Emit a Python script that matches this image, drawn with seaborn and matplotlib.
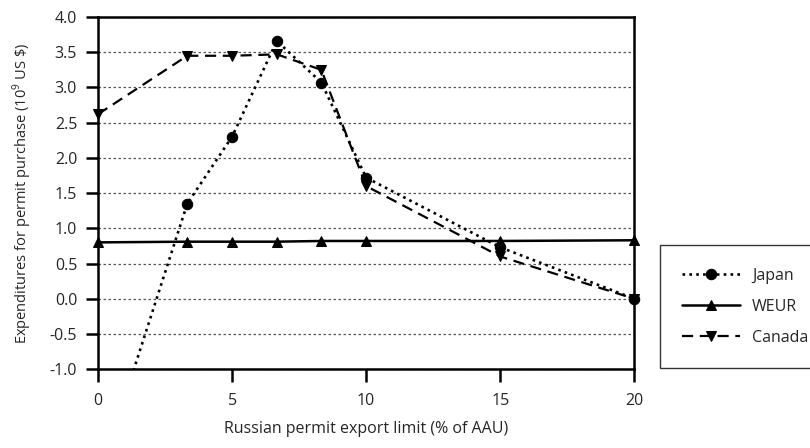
import matplotlib
matplotlib.use("Agg")
import matplotlib.pyplot as plt
from matplotlib.patches import Rectangle
import pandas as pd
import seaborn as sns

# Russian permit export limit (% of AAU)
limits = [0, 3.33, 5, 6.67, 8.33, 10, 15, 20]

# expenditures for permit purchase (10^9 US $)
japan = [-2.58, 1.35, 2.30, 3.66, 3.07, 1.72, 0.73, 0.0]
weur = [0.80, 0.81, 0.81, 0.81, 0.82, 0.82, 0.82, 0.83]
canada = [2.62, 3.45, 3.45, 3.47, 3.25, 1.60, 0.60, 0.0]

series_names = ["Japan", "WEUR", "Canada"]

df = pd.DataFrame({
    "limit": limits * 3,
    "value": japan + weur + canada,
    "region": [n for n in series_names for _ in limits],
})

sns.set_style("white")
plt.rcParams["font.family"] = ["Open Sans", "DejaVu Sans"]
plt.rcParams["mathtext.fontset"] = "custom"
plt.rcParams["mathtext.rm"] = "Open Sans"

fig = plt.figure(figsize=(8.1, 4.48), dpi=100)
ax = fig.add_axes([0.121, 0.176, 0.662, 0.786])

styles = {
    "Japan": dict(linestyle=(0, (1, 1.6)), marker="o", linewidth=1.9, markersize=7.5),
    "WEUR": dict(linestyle="-", marker="^", linewidth=1.8, markersize=7.5),
    "Canada": dict(linestyle=(0, (5, 3)), marker="v", linewidth=1.6, markersize=7.5),
}

for name in series_names:
    sub = df[df["region"] == name]
    sns.lineplot(data=sub, x="limit", y="value", ax=ax, color="black",
                 label=name, markeredgecolor="black", **styles[name])

# let edge markers show in full, but keep the lines inside the y range
clip = Rectangle((-0.03, 0.0), 1.06, 1.05, transform=ax.transAxes)
for line in ax.lines:
    line.set_clip_path(clip)

ax.set_xlim(0, 20)
ax.set_ylim(-1.0, 4.0)
ax.set_xticks([0, 5, 10, 15, 20])
ax.set_yticks([-1.0, -0.5, 0.0, 0.5, 1.0, 1.5, 2.0, 2.5, 3.0, 3.5, 4.0])
ax.set_yticklabels([f"{v:.1f}" for v in ax.get_yticks()])
ax.yaxis.grid(True, linestyle=(0, (2, 2)), color="#555555", linewidth=0.9)
ax.xaxis.grid(False)
ax.set_axisbelow(True)

for sp in ax.spines.values():
    sp.set_color("black")
    sp.set_linewidth(1.8)

ax.tick_params(axis="both", direction="out", length=9, width=1.8, color="black",
               labelsize=11.5, left=True, bottom=True)
ax.tick_params(axis="x", pad=8)
ax.tick_params(axis="y", pad=6)

ax.set_xlabel("Russian permit export limit (% of AAU)", fontsize=11.5, labelpad=9)
ax.set_ylabel("Expenditures for permit purchase (10$^{9}$ US \\$)", fontsize=10.5, labelpad=11)

leg = ax.legend(loc="upper left", bbox_to_anchor=(1.048, 0.0, 0.33, 0.352),
                mode="expand", frameon=True, fancybox=False, edgecolor="black",
                fontsize=11.5, handlelength=3.6, borderpad=1.4, labelspacing=0.95,
                borderaxespad=0, handletextpad=0.75)
leg.get_frame().set_linewidth(1.0)

fig.savefig("out.png", dpi=100)
